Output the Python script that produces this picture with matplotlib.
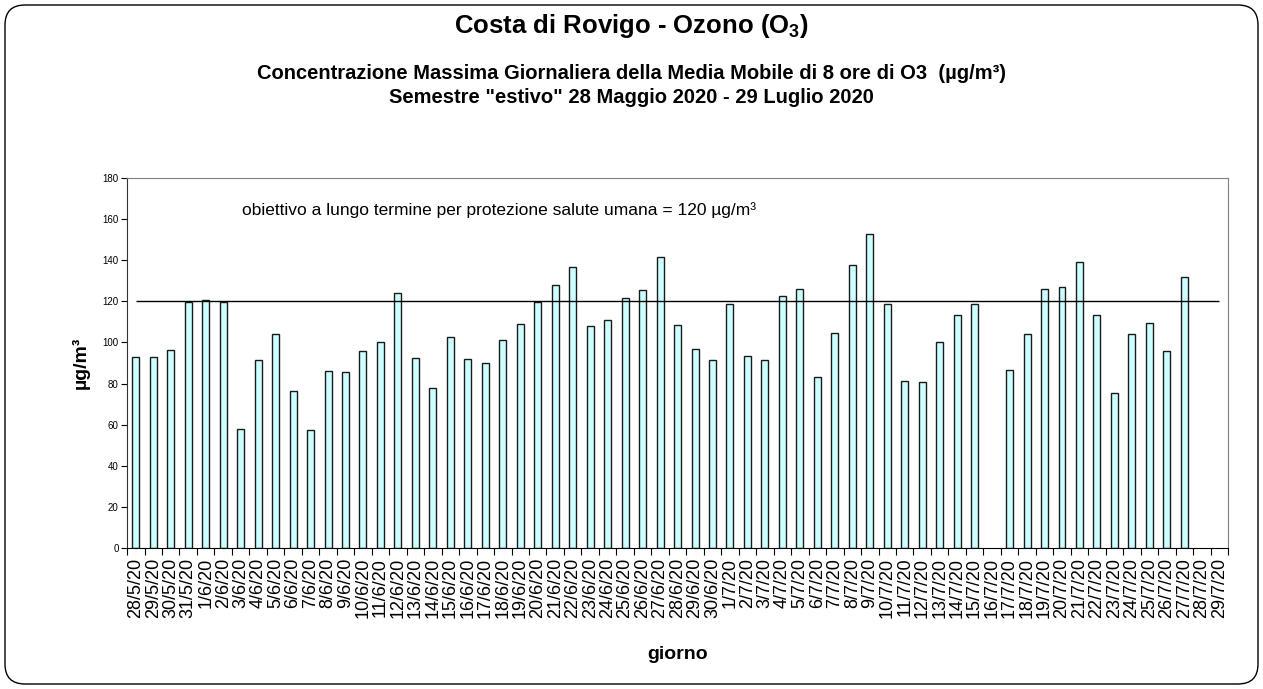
import matplotlib
matplotlib.use("Agg")
import matplotlib.pyplot as plt
import numpy as np
from matplotlib.patches import FancyBboxPatch

plt.rcParams['font.family'] = ['Liberation Sans', 'DejaVu Sans']
plt.rcParams['mathtext.fontset'] = 'custom'
plt.rcParams['mathtext.rm'] = 'Liberation Sans'
plt.rcParams['mathtext.bf'] = 'Liberation Sans:bold'

# days 28/5/20 .. 29/7/20
days = (["%d/5/20" % d for d in range(28, 32)]
        + ["%d/6/20" % d for d in range(1, 31)]
        + ["%d/7/20" % d for d in range(1, 30)])

# max daily 8h moving average of O3 (µg/m³), None = missing
o3 = [93, 93, 96.5, 119.5, 120.5, 119.5, 58, 91.5, 104, 76.5,
      57.5, 86, 85.5, 96, 100, 124, 92.5, 78, 102.5, 92,
      90, 101, 109, 119.5, 128, 136.5, 108, 111, 121.5, 125.5,
      141.5, 108.5, 97, 91.5, 118.5, 93.5, 91.5, 122.5, 126, 83,
      104.5, 137.5, 152.5, 118.5, 81, 80.5, 100, 113.5, 118.5, None,
      86.5, 104, 126, 127, 139, 113.5, 75.5, 104, 109.5, 96,
      132, None, None]

target = 120
yticks = list(range(0, 181, 20))

fig = plt.figure(figsize=(12.63, 6.89), dpi=100)

# rounded outer frame (in inches)
frame = FancyBboxPatch((0.05, 0.05), 12.53, 6.79,
                       boxstyle="round,pad=0,rounding_size=0.2",
                       transform=fig.dpi_scale_trans, fill=False,
                       edgecolor='black', linewidth=1.0)
fig.patches.append(frame)

ax = fig.add_axes([0.1006, 0.2047, 0.8717, 0.537])

x = np.arange(len(days))
vals = np.array([np.nan if v is None else v for v in o3], dtype=float)
ax.bar(x, vals, width=0.4, color='#CCFFFF', edgecolor='#1a1a1a', linewidth=1.0)

# long-term objective line
ax.hlines(target, x[0], x[-1], color='black', linewidth=1.0)

ax.set_xlim(-0.5, len(days) - 0.5)
ax.set_ylim(0, 180)
ax.set_yticks(yticks)
ax.tick_params(axis='y', labelsize=7, length=4, width=0.8, pad=2)

ax.set_xticks(x)
ax.set_xticklabels(days, rotation=90, fontsize=13)
ax.tick_params(axis='x', which='major', length=0, pad=7)
ax.set_xticks(np.arange(-0.5, len(days)), minor=True)
ax.tick_params(axis='x', which='minor', length=5, width=0.8, direction='out')

for s in ['top', 'right']:
    ax.spines[s].set_color('#808080')
ax.spines['left'].set_color('#333333')
ax.spines['bottom'].set_color('black')

ax.set_ylabel("µg/m³", fontsize=14, fontweight='bold', labelpad=9)
ax.set_xlabel("giorno", fontsize=14, fontweight='bold', labelpad=20)

ax.text(0.1045, 0.9135,
        "obiettivo a lungo termine per protezione salute umana = 120 µg/m³",
        transform=ax.transAxes, fontsize=12.5, va='center', ha='left')

fig.text(0.5, 0.962, r"Costa di Rovigo - Ozono (O$_\mathbf{3}$)", ha='center', va='center',
         fontsize=18.5, fontweight='bold')
fig.text(0.5, 0.894,
         "Concentrazione Massima Giornaliera della Media Mobile di 8 ore di O3  (µg/m³)",
         ha='center', va='center', fontsize=14.5, fontweight='bold')
fig.text(0.5, 0.858, 'Semestre "estivo" 28 Maggio 2020 - 29 Luglio 2020',
         ha='center', va='center', fontsize=14.5, fontweight='bold')

fig.savefig("out.png", dpi=100)
